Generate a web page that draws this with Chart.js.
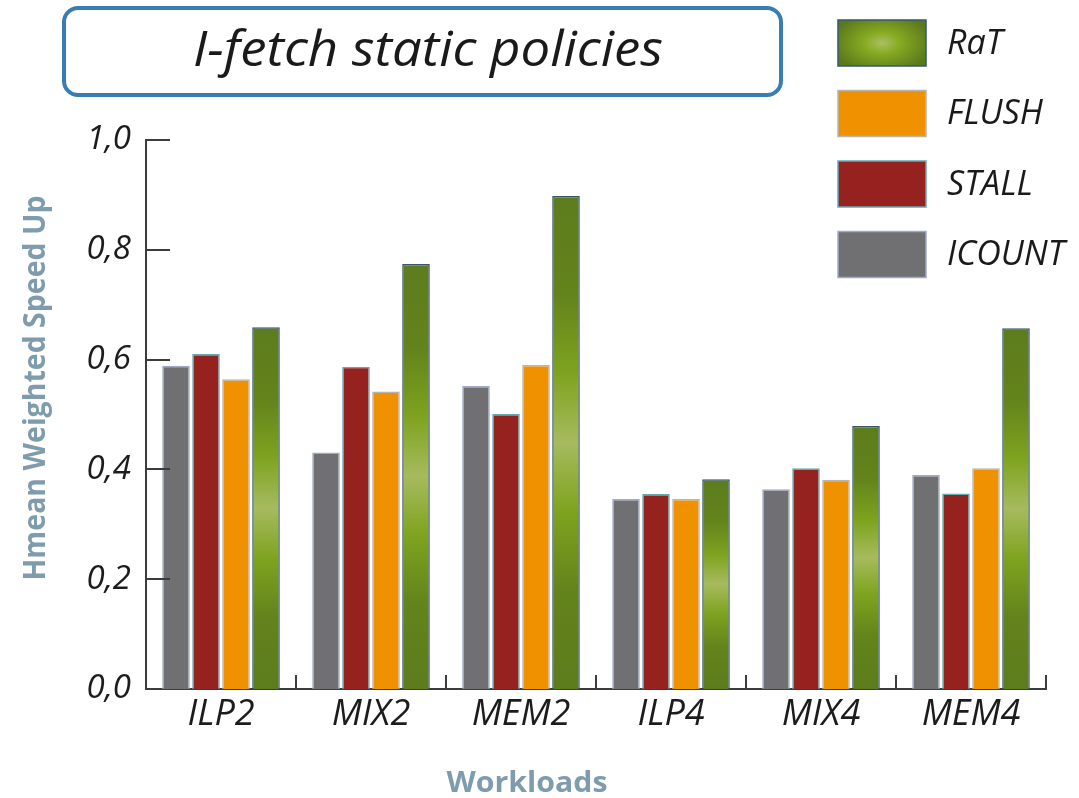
<!DOCTYPE html>
<html>
<head>
<meta charset="utf-8">
<script src="https://cdn.jsdelivr.net/npm/chart.js@4/dist/chart.umd.min.js"></script>
<style>
  html, body { margin: 0; padding: 0; background: #ffffff; }
  #wrap { width: 1079px; height: 798px; position: relative; }
</style>
</head>
<body>
<div id="wrap"><canvas id="c"></canvas></div>
<script>
// Workload categories and speed-up per I-fetch policy
const workloads = ['ILP2', 'MIX2', 'MEM2', 'ILP4', 'MIX4', 'MEM4'];
const icount = [0.589, 0.431, 0.552, 0.346, 0.364, 0.390];
const stall  = [0.610, 0.587, 0.501, 0.355, 0.402, 0.356];
const flush  = [0.564, 0.542, 0.590, 0.346, 0.381, 0.402];
const rat    = [0.659, 0.774, 0.898, 0.382, 0.479, 0.657];
const yTicks = [0, 0.2, 0.4, 0.6, 0.8, 1.0];

const chartTitle = 'I-fetch static policies';
const yTitle = 'Hmean Weighted Speed Up';
const xTitle = 'Workloads';

const FONT = '"Open Sans", "Noto Sans", sans-serif';
const AXIS_TITLE_COLOR = '#7f9cad';

// Vertical green sheen for the RaT bars, spanning each bar from top to base
function ratFill(ctx) {
  const chart = ctx.chart;
  const ys = chart.scales && chart.scales.y;
  if (!ys || ctx.type !== 'data') return '#6a8a20';
  const top = ys.getPixelForValue(ctx.raw);
  const base = ys.getPixelForValue(0);
  if (!isFinite(top) || !isFinite(base) || top === base) return '#6a8a20';
  const g = chart.ctx.createLinearGradient(0, top, 0, base);
  g.addColorStop(0.00, '#5d7c1d');
  g.addColorStop(0.20, '#63831c');
  g.addColorStop(0.36, '#7ea31f');
  g.addColorStop(0.46, '#9bb44c');
  g.addColorStop(0.50, '#a7ba5f');
  g.addColorStop(0.54, '#9bb44c');
  g.addColorStop(0.64, '#7ea31f');
  g.addColorStop(0.80, '#63831c');
  g.addColorStop(1.00, '#5d7c1d');
  return g;
}

// Draw text horizontally squeezed/stretched to a given width
function fitText(c, text, x, y, font, width, color, align) {
  c.save();
  c.font = font;
  c.fillStyle = color;
  c.textBaseline = 'alphabetic';
  const w = c.measureText(text).width;
  const s = width / w;
  c.translate(x, y);
  c.scale(s, 1);
  c.textAlign = align || 'center';
  c.fillText(text, 0, 0);
  c.restore();
}

const decor = {
  id: 'decor',
  afterDraw(chart) {
    const c = chart.ctx;
    const ys = chart.scales.y, xs = chart.scales.x;
    c.save();

    // inward tick marks on the value axis
    c.strokeStyle = '#3c3c3c';
    c.lineWidth = 2;
    yTicks.forEach(v => {
      if (v === 0) return;
      const py = Math.round(ys.getPixelForValue(v));
      c.beginPath();
      c.moveTo(ys.right, py);
      c.lineTo(ys.right + 24, py);
      c.stroke();
    });
    // upward separators between workload groups
    const base = Math.round(ys.getPixelForValue(0));
    for (let i = 1; i <= workloads.length; i++) {
      const px = Math.round(xs.getPixelForValue(i - 0.5));
      c.beginPath();
      c.moveTo(px, base);
      c.lineTo(px, base - 14);
      c.stroke();
    }

    // title box
    c.beginPath();
    c.roundRect(64, 8, 717, 87, 14);
    c.lineWidth = 4;
    c.strokeStyle = '#3a7db3';
    c.stroke();
    fitText(c, chartTitle, 428, 66, 'italic 50px ' + FONT, 470, '#1a1a1a');

    // legend, last series on top
    const ds = chart.data.datasets.slice().reverse();
    ds.forEach((d, k) => {
      const bx = 838, by = 20 + k * 70.5, bw = 88, bh = 46;
      if (d.label === 'RaT') {
        c.save();
        c.translate(bx + bw / 2, by + bh / 2);
        c.scale(1, 0.6);
        const g = c.createRadialGradient(0, 0, 0, 0, 0, 50);
        g.addColorStop(0, '#abc065');
        g.addColorStop(0.35, '#87ab22');
        g.addColorStop(1, '#5a791c');
        c.fillStyle = g;
        c.fillRect(-bw / 2, -bh / 2 / 0.6, bw, bh / 0.6);
        c.restore();
      } else {
        c.fillStyle = d.backgroundColor;
        c.fillRect(bx, by, bw, bh);
      }
      c.lineWidth = 1.5;
      c.strokeStyle = d.borderColor;
      c.strokeRect(bx, by, bw, bh);
      c.font = 'italic 34px ' + FONT;
      c.fillStyle = '#1a1a1a';
      c.textAlign = 'left';
      c.textBaseline = 'middle';
      c.fillText(d.label, 947, by + bh / 2 + 1);
    });

    // axis titles
    c.save();
    c.translate(45, 388);
    c.rotate(-Math.PI / 2);
    fitText(c, yTitle, 0, 0, 'bold 31px ' + FONT, 385, AXIS_TITLE_COLOR);
    c.restore();
    fitText(c, xTitle, 527, 792, 'bold 29px ' + FONT, 161, AXIS_TITLE_COLOR);

    c.restore();
  }
};

new Chart(document.getElementById('c'), {
  type: 'bar',
  data: {
    labels: workloads,
    datasets: [
      { label: 'ICOUNT', data: icount, backgroundColor: '#707072', borderColor: '#9eaac6' },
      { label: 'STALL',  data: stall,  backgroundColor: '#962220', borderColor: '#62aab4' },
      { label: 'FLUSH',  data: flush,  backgroundColor: '#f09200', borderColor: '#b9b4ad' },
      { label: 'RaT',    data: rat,    backgroundColor: ratFill,   borderColor: '#35586c' }
    ]
  },
  options: {
    responsive: true,
    maintainAspectRatio: false,
    animation: false,
    layout: { padding: { top: 140, right: 33, left: 0, bottom: 0 } },
    datasets: {
      bar: { borderWidth: 1.5, categoryPercentage: 0.8, barPercentage: 0.92 }
    },
    plugins: {
      legend: { display: false },
      tooltip: { enabled: false },
      title: { display: false }
    },
    scales: {
      x: {
        grid: { display: false, drawTicks: false },
        border: { display: true, color: '#3c3c3c', width: 2 },
        ticks: { font: { family: FONT, size: 36, style: 'italic' }, color: '#1c1c1c', padding: 4, maxRotation: 0 },
        afterFit(scale) { scale.height = 109; }
      },
      y: {
        min: 0, max: 1,
        grid: { display: false, drawTicks: false },
        border: { display: true, color: '#3c3c3c', width: 2 },
        ticks: {
          stepSize: 0.2,
          font: { family: FONT, size: 33, style: 'italic' },
          color: '#1c1c1c',
          padding: 15,
          callback: v => Number(v).toFixed(1).replace('.', ',')
        },
        afterFit(scale) { scale.width = 146; }
      }
    }
  },
  plugins: [decor]
});
</script>
</body>
</html>
